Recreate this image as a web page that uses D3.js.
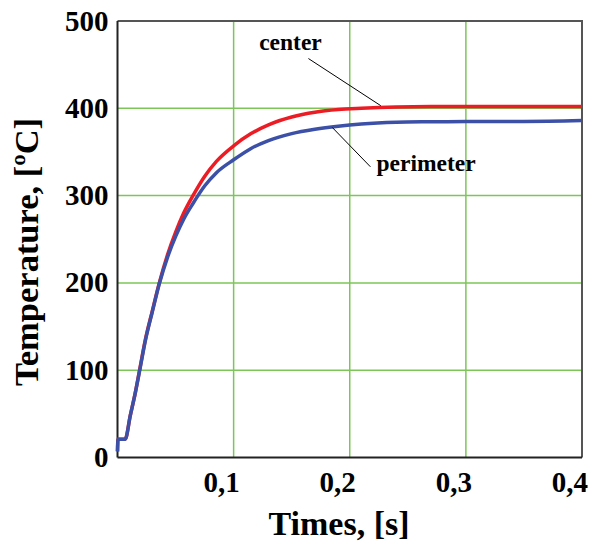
<!DOCTYPE html>
<html>
<head>
<meta charset="utf-8">
<script src="https://cdn.jsdelivr.net/npm/d3@7"></script>
<style>
  body { margin: 0; background: #fff; }
  text { font-family: "Liberation Serif", "Times New Roman", serif; font-weight: bold; fill: #000; }
</style>
</head>
<body>
<svg id="chart" width="601" height="546"></svg>
<script>
// data
var time = [0, 0.0004, 0.0066, 0.011, 0.015, 0.019, 0.024, 0.03, 0.036, 0.043, 0.05, 0.057, 0.065, 0.075, 0.085, 0.1, 0.115, 0.13, 0.15, 0.17, 0.19, 0.21, 0.24, 0.27, 0.3, 0.35, 0.4];
var center = [7, 21, 21, 48, 72, 100, 135, 168, 200, 232, 258, 280, 300, 322, 339, 357, 371, 381, 390, 395.5, 398.5, 400, 401.5, 402, 402, 402, 402];
var perimeter = [7, 21, 21, 48, 72, 99, 134, 167, 199, 229, 253, 273, 291, 311, 326, 341, 354, 363, 371, 376, 379.5, 382, 384, 384.6, 385, 385, 386];
var xTicks = [0.1, 0.2, 0.3, 0.4];
var yTicks = [0, 100, 200, 300, 400, 500];

function drawChart() {
    var svg = d3.select("#chart");

    var x = d3.scaleLinear().domain([0, 0.4]).range([117.5, 582]);
    var y = d3.scaleLinear().domain([0, 500]).range([457.5, 21]);

    var fmt = function (d) { return d3.format(".1f")(d).replace(".", ","); };

    // grid
    svg.append("g").selectAll("line")
        .data(xTicks.slice(0, 3))
        .enter().append("line")
        .attr("x1", function (d) { return x(d); })
        .attr("x2", function (d) { return x(d); })
        .attr("y1", y(500)).attr("y2", y(0))
        .style("stroke", "#7cc658").style("stroke-width", 1.5);
    svg.append("g").selectAll("line")
        .data(yTicks.slice(1, 5))
        .enter().append("line")
        .attr("x1", x(0)).attr("x2", x(0.4))
        .attr("y1", function (d) { return y(d); })
        .attr("y2", function (d) { return y(d); })
        .style("stroke", "#7cc658").style("stroke-width", 1.5);

    // frame
    svg.append("path")
        .attr("d", "M" + x(0) + "," + y(500) + "H" + x(0.4) + "V" + y(0))
        .style("fill", "none").style("stroke", "#555").style("stroke-width", 2);
    svg.append("line")
        .attr("x1", x(0)).attr("x2", x(0)).attr("y1", y(500)).attr("y2", y(0))
        .style("stroke", "#222").style("stroke-width", 2);
    svg.append("line")
        .attr("x1", x(0)).attr("x2", x(0.4)).attr("y1", y(0)).attr("y2", y(0))
        .style("stroke", "#222").style("stroke-width", 2);

    // tick labels
    svg.append("g").selectAll("text")
        .data(yTicks)
        .enter().append("text")
        .attr("x", x(0) - 9)
        .attr("y", function (d) { return y(d); })
        .attr("dy", "0.33em")
        .attr("text-anchor", "end")
        .style("font-size", "29px")
        .text(function (d) { return d; });
    svg.append("g").selectAll("text")
        .data(xTicks)
        .enter().append("text")
        .attr("x", function (d) { return x(d) + 6; })
        .attr("y", 492)
        .attr("text-anchor", "end")
        .style("font-size", "29px")
        .text(fmt);

    // axis titles
    svg.append("text")
        .attr("x", 339).attr("y", 535)
        .attr("text-anchor", "middle")
        .style("font-size", "34px")
        .text("Times, [s]");
    svg.append("text")
        .attr("transform", "translate(38,252) rotate(-90)")
        .attr("text-anchor", "middle")
        .style("font-size", "34.5px")
        .text("Temperature, [ºC]");

    // curves
    var line = d3.line()
        .curve(d3.curveMonotoneX)
        .x(function (d) { return x(d[0]); })
        .y(function (d) { return y(d[1]); });

    svg.append("path")
        .datum(d3.zip(time, center))
        .attr("d", line)
        .style("fill", "none").style("stroke", "#ec1c24").style("stroke-width", 3.5);
    svg.append("path")
        .datum(d3.zip(time, perimeter))
        .attr("d", line)
        .style("fill", "none").style("stroke", "#3b50a6").style("stroke-width", 3.5);

    // annotations
    svg.append("line")
        .attr("x1", x(0.1644)).attr("y1", y(457))
        .attr("x2", x(0.2267)).attr("y2", y(403))
        .style("stroke", "#000").style("stroke-width", 1);
    svg.append("line")
        .attr("x1", x(0.185)).attr("y1", y(378))
        .attr("x2", x(0.2178)).attr("y2", y(333))
        .style("stroke", "#000").style("stroke-width", 1);
    svg.append("text")
        .attr("x", x(0.122)).attr("y", y(467))
        .style("font-size", "23.5px")
        .text("center");
    svg.append("text")
        .attr("x", x(0.223)).attr("y", y(328))
        .style("font-size", "23.5px")
        .text("perimeter");
}

drawChart();
</script>
</body>
</html>
